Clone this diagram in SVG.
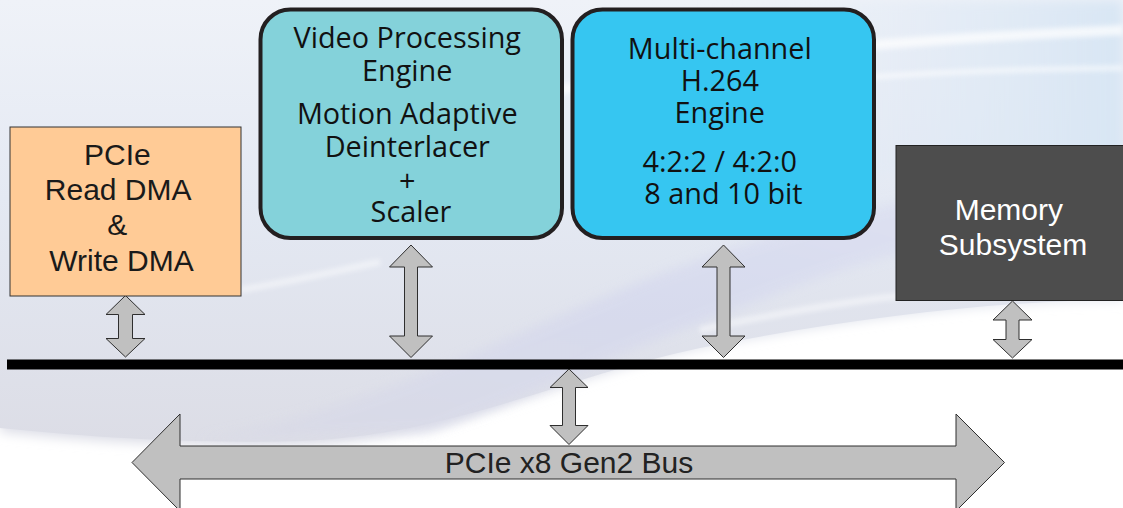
<svg xmlns="http://www.w3.org/2000/svg" width="1123" height="508" viewBox="0 0 1123 508">
  <defs>
    <linearGradient id="bgTop" x1="0" y1="0" x2="0" y2="1">
      <stop offset="0" stop-color="#eff2f8"/>
      <stop offset="0.45" stop-color="#e4e9f3"/>
      <stop offset="1" stop-color="#dcdde6"/>
    </linearGradient>
    <linearGradient id="lav" x1="0" y1="1" x2="1" y2="0">
      <stop offset="0" stop-color="#d9dae6"/>
      <stop offset="0.5" stop-color="#d6d9ee"/>
      <stop offset="1" stop-color="#dfe3f3"/>
    </linearGradient>
    <linearGradient id="skyRight" x1="0" y1="0" x2="1" y2="0">
      <stop offset="0" stop-color="#e6ecf6" stop-opacity="0"/>
      <stop offset="1" stop-color="#d8e6f4"/>
    </linearGradient>
    <filter id="soft" x="-10%" y="-50%" width="120%" height="200%">
      <feGaussianBlur stdDeviation="6"/>
    </filter>
    <filter id="softer" x="-10%" y="-50%" width="120%" height="200%">
      <feGaussianBlur stdDeviation="2.5"/>
    </filter>
    <style>
      .conn { fill: #c0c0c0; stroke: #2e2e2e; stroke-width: 1; stroke-linejoin: miter; }
      .engine { stroke: #231f20; stroke-width: 4; }
      .myriad { font-family: "Open Sans", "Noto Sans", sans-serif; font-size: 28.8px; fill: #111; text-anchor: middle; }
      .helv { font-family: "Liberation Sans", Arial, sans-serif; font-size: 30px; text-anchor: middle; }
    </style>
  </defs>

  <!-- background with soft swooshes -->
  <g id="background">
    <rect x="0" y="0" width="1123" height="508" fill="#ffffff"/>
    <path d="M0,0 H1123 V300 C1000,300 850,318 700,348 C560,378 450,440 300,445 C180,448 80,440 0,432 Z" fill="url(#bgTop)" filter="url(#soft)"/>
    <path d="M0,0 H1123 V300 C1000,300 850,318 700,348 C560,378 450,436 300,441 C180,444 80,436 0,428 Z" fill="url(#bgTop)"/>
    <path d="M200,440 C420,400 560,300 760,240 C900,200 1020,170 1123,160 L1123,215 C980,225 860,260 760,300 C620,350 520,400 430,432 Z" fill="url(#lav)" opacity="0.8" filter="url(#soft)"/>
    <path d="M700,0 H1123 V160 C1000,150 880,170 760,210 L700,0 Z" fill="url(#skyRight)" filter="url(#soft)"/>
    <path d="M560,90 C700,55 900,40 1123,30" fill="none" stroke="#ffffff" stroke-width="10" opacity="0.7" filter="url(#softer)"/>
    <path d="M600,110 C760,80 930,70 1123,68" fill="none" stroke="#ffffff" stroke-width="5" opacity="0.6" filter="url(#softer)"/>
    <path d="M240,290 C300,280 340,270 380,262" fill="none" stroke="#ffffff" stroke-width="6" opacity="0.5" filter="url(#softer)"/>
    <path d="M700,330 C780,312 860,300 900,296" fill="none" stroke="#ffffff" stroke-width="6" opacity="0.5" filter="url(#softer)"/>
  </g>

  <!-- connectors: system bus, block links and external bus -->
  <g id="connectors">
    <rect x="7" y="359.5" width="1116" height="10" fill="#000000"/>
    <path class="conn" d="M125.5,295.5 L145,314.5 L132.5,314.5 L132.5,338.5 L145,338.5 L125.5,357 L106,338.5 L118.5,338.5 L118.5,314.5 L106,314.5 Z"/>
    <path class="conn" d="M411,245 L432.5,267 L417.5,267 L417.5,336 L432.5,336 L411,357.5 L389.5,336 L404.5,336 L404.5,267 L389.5,267 Z"/>
    <path class="conn" d="M723.5,245 L745,267 L730,267 L730,336 L745,336 L723.5,357.5 L702,336 L717,336 L717,267 L702,267 Z"/>
    <path class="conn" d="M1012.5,301 L1032,320 L1019,320 L1019,339.5 L1032,339.5 L1012.5,358 L993,339.5 L1006,339.5 L1006,320 L993,320 Z"/>
    <path class="conn" d="M569,369 L588,387.5 L575.5,387.5 L575.5,425.5 L588,425.5 L569,444.5 L550,425.5 L562.5,425.5 L562.5,387.5 L550,387.5 Z"/>
    <path class="conn" d="M132,462.5 L180,414 L180,446 L956,446 L956,414 L1004.5,462.5 L956,511 L956,479 L180,479 L180,511 Z"/>
    <text class="helv" x="569" y="473" font-size="29" fill="#222">PCIe x8 Gen2 Bus</text>
  </g>

  <g id="pcie-dma">
    <rect x="10" y="127" width="231" height="169" fill="#ffcb96" stroke="#333" stroke-width="1"/>
    <text class="helv" fill="#1a1a1a">
      <tspan x="121.5" y="165">PCIe</tspan>
      <tspan x="121.5" y="200">Read DMA</tspan>
      <tspan x="121.5" y="235">&amp;</tspan>
      <tspan x="121.5" y="270.5">Write DMA</tspan>
    </text>
  </g>

  <g id="video-engine">
    <rect class="engine" x="260.5" y="9.5" width="301.5" height="228.5" rx="30" fill="#84d2da"/>
    <text class="myriad">
      <tspan x="411" y="48">Video Processing</tspan>
      <tspan x="411" y="81">Engine</tspan>
      <tspan x="411" y="124">Motion Adaptive</tspan>
      <tspan x="411" y="157">Deinterlacer</tspan>
      <tspan x="411" y="191">+</tspan>
      <tspan x="411" y="222">Scaler</tspan>
    </text>
  </g>

  <g id="h264-engine">
    <rect class="engine" x="572.5" y="9.5" width="301.5" height="228.5" rx="30" fill="#36c6f1"/>
    <text class="myriad">
      <tspan x="723.5" y="59">Multi-channel</tspan>
      <tspan x="723.5" y="91">H.264</tspan>
      <tspan x="723.5" y="122.5">Engine</tspan>
      <tspan x="723.5" y="171.5">4:2:2 / 4:2:0</tspan>
      <tspan x="723.5" y="203.5">8 and 10 bit</tspan>
    </text>
  </g>

  <g id="memory">
    <rect x="896" y="145.5" width="240" height="155" fill="#4d4d4d" stroke="#222" stroke-width="1"/>
    <text class="helv" fill="#ffffff">
      <tspan x="1013" y="219.5">Memory</tspan>
      <tspan x="1013" y="254.5">Subsystem</tspan>
    </text>
  </g>
</svg>
